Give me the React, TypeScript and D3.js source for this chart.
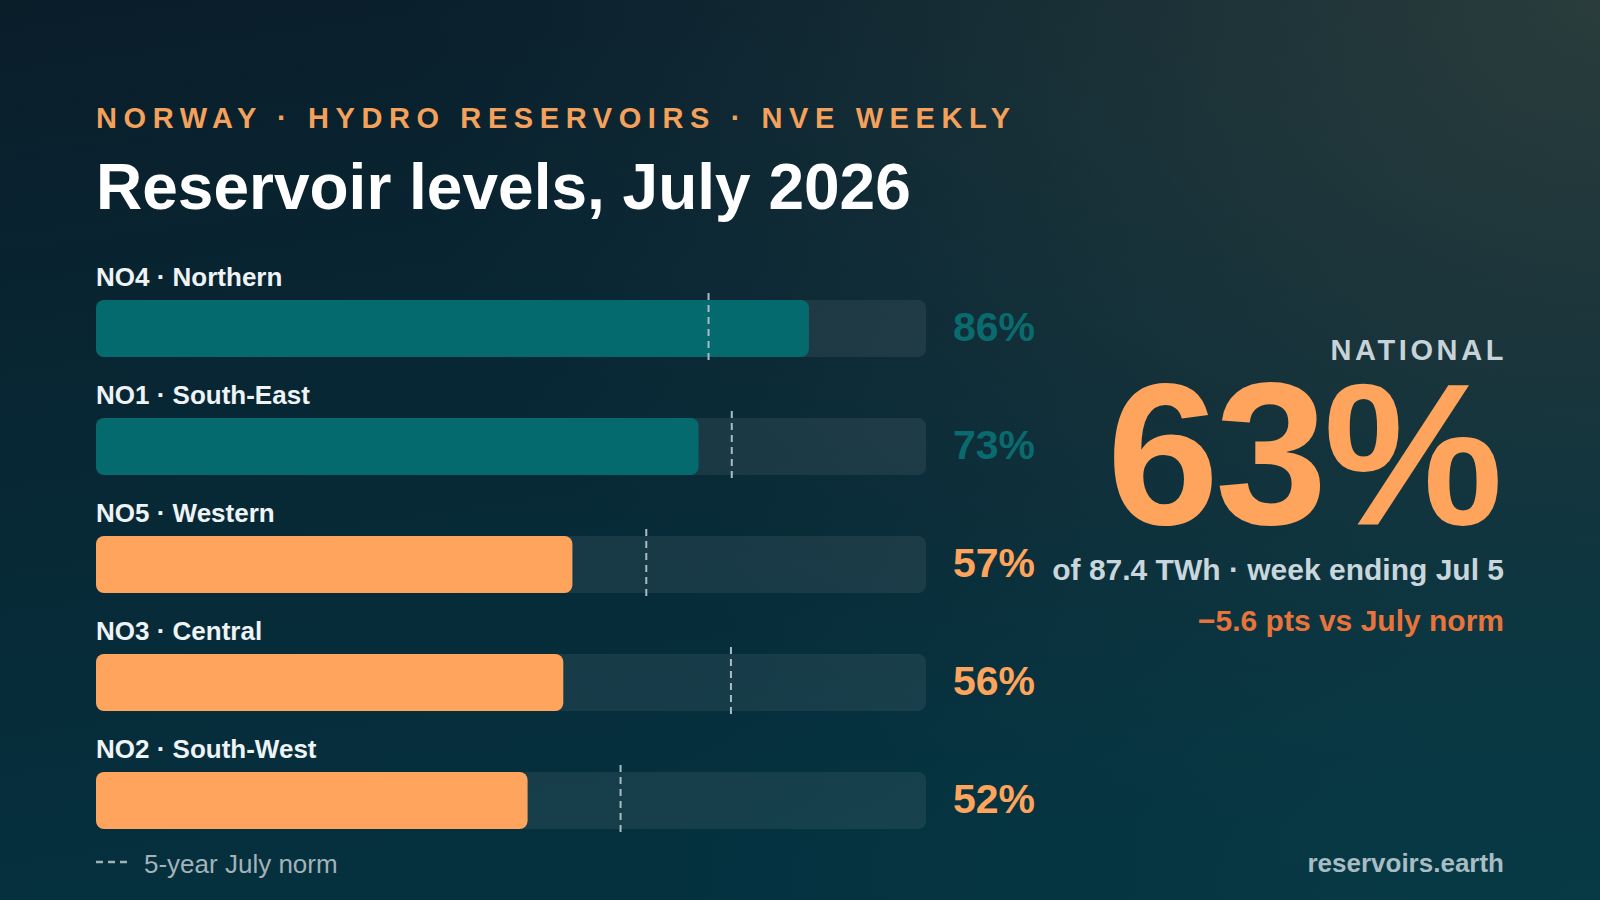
import React from "react";
import * as d3 from "d3";

const regions = ["NO4 · Northern", "NO1 · South-East", "NO5 · Western", "NO3 · Central", "NO2 · South-West"];
const levels = [85.9, 72.6, 57.4, 56.3, 52.0];
const norms = [73.8, 76.6, 66.3, 76.5, 63.2];
const colorGroup = ["teal", "teal", "orange", "orange", "orange"];

const kicker = "NORWAY · HYDRO RESERVOIRS · NVE WEEKLY";
const title = "Reservoir levels, July 2026";
const nationalLabel = "NATIONAL";
const nationalValue = 63;
const nationalSub = "of 87.4 TWh · week ending Jul 5";
const nationalDelta = "−5.6 pts vs July norm";
const legendText = "5-year July norm";
const source = "reservoirs.earth";

const W = 1600;
const H = 900;
const FONT = "'Liberation Sans', Arial, Helvetica, sans-serif";

const TEAL = "#046a6e";
const TEAL_TEXT = "#0a6b6e";
const ORANGE = "#ffa45c";
const DELTA = "#e8743b";

export default function App() {
  const x = d3.scaleLinear().domain([0, 100]).range([96, 926]);
  const y = d3.scaleBand<string>().domain(regions).range([300, 890]).paddingInner(0);
  const barH = 57;

  return (
    <div style={{ position: "fixed", left: 0, top: 0, width: W, height: H }}>
      <svg width={W} height={H} style={{ display: "block" }} fontFamily={FONT}>
        <defs>
          <linearGradient id="bg" x1="0" y1="0" x2="0.25" y2="1">
            <stop offset="0" stopColor="#0a1e2a" />
            <stop offset="1" stopColor="#05313f" />
          </linearGradient>
          <radialGradient id="glow" cx="1" cy="0" r="0.75" gradientUnits="objectBoundingBox" gradientTransform="translate(0,0) scale(1,1.4)">
            <stop offset="0" stopColor="#30413e" stopOpacity="0.85" />
            <stop offset="0.5" stopColor="#2a3f40" stopOpacity="0.42" />
            <stop offset="1" stopColor="#1a3540" stopOpacity="0" />
          </radialGradient>
          <radialGradient id="glow2" cx="1" cy="1" r="0.6">
            <stop offset="0" stopColor="#074049" stopOpacity="0.6" />
            <stop offset="1" stopColor="#074049" stopOpacity="0" />
          </radialGradient>
        </defs>
        <rect width={W} height={H} fill="url(#bg)" />
        <rect width={W} height={H} fill="url(#glow)" />
        <rect width={W} height={H} fill="url(#glow2)" />

        <text x={96} y={128} fill="#f4a15c" fontSize={29} fontWeight={700} letterSpacing={6.6}>
          {kicker}
        </text>
        <text x={96} y={209} fill="#ffffff" fontSize={64} fontWeight={700}>
          {title}
        </text>

        {regions.map((r, i) => {
          const top = (y(r) as number);
          const isTeal = colorGroup[i] === "teal";
          return (
            <g key={r}>
              <text x={96} y={top - 14} fill="#eef3f5" fontSize={26} fontWeight={700}>
                {r}
              </text>
              <rect x={x(0)} y={top} width={x(100) - x(0)} height={barH} rx={8} fill="#ffffff" fillOpacity={0.07} />
              <rect x={x(0)} y={top} width={x(levels[i]) - x(0)} height={barH} rx={8} fill={isTeal ? TEAL : ORANGE} />
              <line
                x1={x(norms[i])}
                x2={x(norms[i])}
                y1={top - 7}
                y2={top + barH + 7}
                stroke="#a9bcc4"
                strokeWidth={2}
                strokeDasharray="7 5"
              />
              <text x={953} y={top + barH / 2 + 12} fill={isTeal ? TEAL_TEXT : ORANGE} fontSize={41} fontWeight={700}>
                {Math.round(levels[i])}%
              </text>
            </g>
          );
        })}

        <line x1={96} x2={130} y1={862} y2={862} stroke="#9fb1b9" strokeWidth={2.5} strokeDasharray="7 5" />
        <text x={144} y={873} fill="#a2b3ba" fontSize={26}>
          {legendText}
        </text>

        <text x={1507} y={360} textAnchor="end" fill="#c7d3d8" fontSize={29} fontWeight={700} letterSpacing={3.6}>
          {nationalLabel}
        </text>
        <text x={1499} y={524} textAnchor="end" fill={ORANGE} fontSize={202} fontWeight={700} letterSpacing={-4}>
          {nationalValue}%
        </text>
        <text x={1504} y={580} textAnchor="end" fill="#c9d6db" fontSize={30} fontWeight={700}>
          {nationalSub}
        </text>
        <text x={1504} y={631} textAnchor="end" fill={DELTA} fontSize={30} fontWeight={700}>
          {nationalDelta}
        </text>

        <text x={1504} y={872} textAnchor="end" fill="#a8bcc4" fontSize={26} fontWeight={700}>
          {source}
        </text>
      </svg>
    </div>
  );
}
